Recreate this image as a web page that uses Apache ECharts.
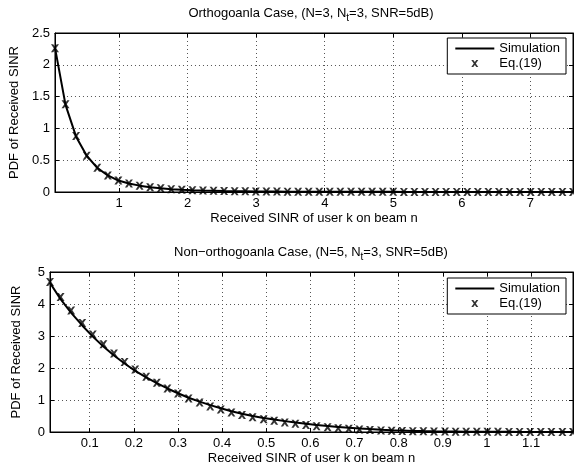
<!DOCTYPE html>
<html>
<head>
<meta charset="utf-8">
<script src="https://cdn.jsdelivr.net/npm/echarts@6/dist/echarts.min.js"></script>
<style>html,body{margin:0;padding:0;background:#fff}#c{width:574px;height:472px}</style>
</head>
<body>
<div id="c"></div>
<script>
// ---- Top panel (orthogonal case) ----
var xTop = [0.065,0.219,0.373,0.528,0.682,0.836,0.990,1.144,1.299,1.453,1.607,1.761,1.915,2.070,2.224,2.378,2.532,2.686,2.841,2.995,3.149,3.303,3.457,3.612,3.766,3.920,4.074,4.228,4.383,4.537,4.691,4.845,4.999,5.154,5.308,5.462,5.616,5.770,5.925,6.079,6.233,6.387,6.541,6.696,6.850,7.004,7.158,7.312,7.467,7.621];
var simTop = [2.27,1.37,0.87,0.57,0.38,0.26,0.18,0.135,0.10,0.076,0.058,0.045,0.035,0.028,0.022,0.018,0.014,0.012,0.010,0.008,0.007,0.006,0.005,0.004,0.004,0.003,0.003,0.003,0.002,0.002,0.002,0.002,0.002,0.001,0.001,0.001,0.001,0.001,0.001,0.001,0.001,0.001,0.001,0.001,0.001,0.001,0.001,0.001,0.001,0.001];
var eqTop = [2.26,1.38,0.88,0.57,0.38,0.26,0.18,0.135,0.10,0.075,0.058,0.045,0.035,0.028,0.022,0.018,0.014,0.012,0.010,0.008,0.007,0.006,0.005,0.004,0.004,0.003,0.003,0.003,0.002,0.002,0.002,0.002,0.002,0.001,0.001,0.001,0.001,0.001,0.001,0.001,0.001,0.001,0.001,0.001,0.001,0.001,0.001,0.001,0.001,0.001];
var xTicksTop = [1,2,3,4,5,6,7];

// ---- Bottom panel (non-orthogonal case) ----
var xBot = [0.010,0.034,0.058,0.083,0.107,0.131,0.155,0.179,0.203,0.228,0.252,0.276,0.300,0.324,0.349,0.373,0.397,0.421,0.445,0.469,0.494,0.518,0.542,0.566,0.590,0.614,0.639,0.663,0.687,0.711,0.735,0.760,0.784,0.808,0.832,0.856,0.880,0.905,0.929,0.953,0.977,1.001,1.025,1.050,1.074,1.098,1.122,1.146,1.171,1.195];
var simBot = [4.66,4.15,3.72,3.33,2.98,2.67,2.39,2.14,1.91,1.71,1.53,1.36,1.21,1.07,0.95,0.84,0.74,0.65,0.57,0.50,0.44,0.39,0.34,0.30,0.26,0.22,0.19,0.16,0.13,0.11,0.09,0.07,0.055,0.045,0.035,0.028,0.022,0.017,0.013,0.010,0.008,0.006,0.005,0.004,0.003,0.002,0.002,0.001,0.001,0.001];
var eqBot = [4.69,4.22,3.80,3.41,3.05,2.74,2.45,2.19,1.95,1.73,1.54,1.36,1.20,1.05,0.92,0.80,0.70,0.61,0.53,0.46,0.40,0.35,0.30,0.26,0.22,0.18,0.15,0.12,0.10,0.08,0.065,0.05,0.04,0.03,0.025,0.02,0.015,0.012,0.010,0.008,0.006,0.005,0.004,0.003,0.002,0.002,0.001,0.001,0.001,0.001];
var xTicksBot = [0.1,0.2,0.3,0.4,0.5,0.6,0.7,0.8,0.9,1.0,1.1];

var titleTop = ['Orthogoanla Case, (N=3, N', 't', '=3, SNR=5dB)'];
var titleBot = ['Non\u2212orthogoanla Case, (N=5, N', 't', '=3, SNR=5dB)'];
var xName = 'Received SINR of user k on beam n';
var yName = 'PDF of Received SINR';
var names = ['Simulation', 'Eq.(19)'];

function zip(a, b) { return a.map(function (v, i) { return [v, b[i]]; }); }

var FONT = 'Liberation Sans, Arial, Helvetica, sans-serif';
var FS = 13;
var crossPath = 'path://M0,0 L2.8,0 L5,2.8 L7.2,0 L10,0 L6.5,4.9 L10,10 L7.2,10 L5,7.1 L2.8,10 L0,10 L3.5,4.9 Z';
var linePath = 'path://M0,0 L39,0 L39,2 L0,2 Z';

function xAxisMain(gi, min, max, ticks) {
  return {
    type: 'value', gridIndex: gi, min: min, max: max, position: 'bottom',
    name: xName, nameLocation: 'middle', nameGap: 20,
    nameTextStyle: { color: '#000', fontSize: FS, fontFamily: FONT },
    axisLine: { show: true, onZero: false, lineStyle: { color: '#000', width: 1 } },
    axisTick: { show: true, inside: true, length: 4, customValues: ticks, lineStyle: { color: '#000' } },
    axisLabel: { customValues: ticks, color: '#000', fontSize: FS, fontFamily: FONT, margin: 5 },
    splitLine: { show: true, lineStyle: { color: '#555', type: [1, 3], width: 1 } }
  };
}
function xAxisTop(gi, min, max, ticks) {
  return {
    type: 'value', gridIndex: gi, min: min, max: max, position: 'top',
    axisLine: { show: true, onZero: false, lineStyle: { color: '#000', width: 1 } },
    axisTick: { show: true, inside: true, length: 4, customValues: ticks, lineStyle: { color: '#000' } },
    axisLabel: { show: false }, splitLine: { show: false }
  };
}
function yAxisMain(gi, max, interval) {
  return {
    type: 'value', gridIndex: gi, min: 0, max: max, interval: interval, position: 'left',
    name: yName, nameLocation: 'middle', nameGap: 27,
    nameTextStyle: { color: '#000', fontSize: FS, fontFamily: FONT },
    axisLine: { show: true, onZero: false, lineStyle: { color: '#000', width: 1 } },
    axisTick: { show: true, inside: true, length: 4, lineStyle: { color: '#000' } },
    axisLabel: { color: '#000', fontSize: FS, fontFamily: FONT, margin: 5 },
    splitLine: { show: true, lineStyle: { color: '#555', type: [1, 3], width: 1 } }
  };
}
function yAxisRight(gi, max, interval) {
  return {
    type: 'value', gridIndex: gi, min: 0, max: max, interval: interval, position: 'right',
    axisLine: { show: true, onZero: false, lineStyle: { color: '#000', width: 1 } },
    axisTick: { show: true, inside: true, length: 4, lineStyle: { color: '#000' } },
    axisLabel: { show: false }, splitLine: { show: false }
  };
}
function legendAt(top) {
  return {
    top: top, right: 8, orient: 'vertical', align: 'left',
    backgroundColor: '#fff', borderColor: '#000', borderWidth: 1, borderRadius: 0,
    padding: [4, 6, 4, 8], itemGap: 2, itemWidth: 39, itemHeight: 7,
    textStyle: { color: '#000', fontSize: FS, fontFamily: FONT },
    data: [
      { name: names[0], icon: linePath, itemStyle: { color: '#000' } },
      { name: names[1], icon: crossPath, itemStyle: { color: '#000' } }
    ],
    selectedMode: false
  };
}
function titleText(parts, y) {
  return {
    type: 'text', x: 311, y: y, z: 10,
    style: {
      text: '{a|' + parts[0] + '}{s|' + parts[1] + '}{a|' + parts[2] + '}',
      align: 'center', verticalAlign: 'middle',
      rich: {
        a: { fontSize: FS, fontFamily: FONT, fill: '#000', lineHeight: 20, verticalAlign: 'middle' },
        s: { fontSize: 10, fontFamily: FONT, fill: '#000', lineHeight: 20, verticalAlign: 'bottom' }
      }
    }
  };
}

var chart = echarts.init(document.getElementById('c'), null, { renderer: 'canvas' });
var lineStyle = { color: '#000', width: 2 };
var option = {
  animation: false,
  backgroundColor: '#fff',
  grid: [
    { left: 50, right: 1, top: 33, height: 159, show: true, borderColor: '#000', borderWidth: 1, backgroundColor: 'transparent' },
    { left: 50, right: 1, top: 272, height: 160, show: true, borderColor: '#000', borderWidth: 1, backgroundColor: 'transparent' }
  ],
  xAxis: [
    xAxisMain(0, 0.065, 7.621, xTicksTop), xAxisTop(0, 0.065, 7.621, xTicksTop),
    xAxisMain(1, 0.010, 1.195, xTicksBot), xAxisTop(1, 0.010, 1.195, xTicksBot)
  ],
  yAxis: [
    yAxisMain(0, 2.5, 0.5), yAxisRight(0, 2.5, 0.5),
    yAxisMain(1, 5, 1), yAxisRight(1, 5, 1)
  ],
  legend: [legendAt(38), legendAt(278)],
  graphic: [titleText(titleTop, 13), titleText(titleBot, 252)],
  series: [
    { name: names[0], type: 'line', xAxisIndex: 0, yAxisIndex: 0, data: zip(xTop, simTop), symbol: 'none', lineStyle: lineStyle, itemStyle: { color: '#000' }, z: 3 },
    { name: names[1], type: 'scatter', xAxisIndex: 0, yAxisIndex: 0, data: zip(xTop, eqTop), symbol: crossPath, symbolSize: 8, itemStyle: { color: '#000' }, z: 4 },
    { name: names[0], type: 'line', xAxisIndex: 2, yAxisIndex: 2, data: zip(xBot, simBot), symbol: 'none', lineStyle: lineStyle, itemStyle: { color: '#000' }, z: 3 },
    { name: names[1], type: 'scatter', xAxisIndex: 2, yAxisIndex: 2, data: zip(xBot, eqBot), symbol: crossPath, symbolSize: 8, itemStyle: { color: '#000' }, z: 4 }
  ]
};
chart.setOption(option);
</script>
</body>
</html>
